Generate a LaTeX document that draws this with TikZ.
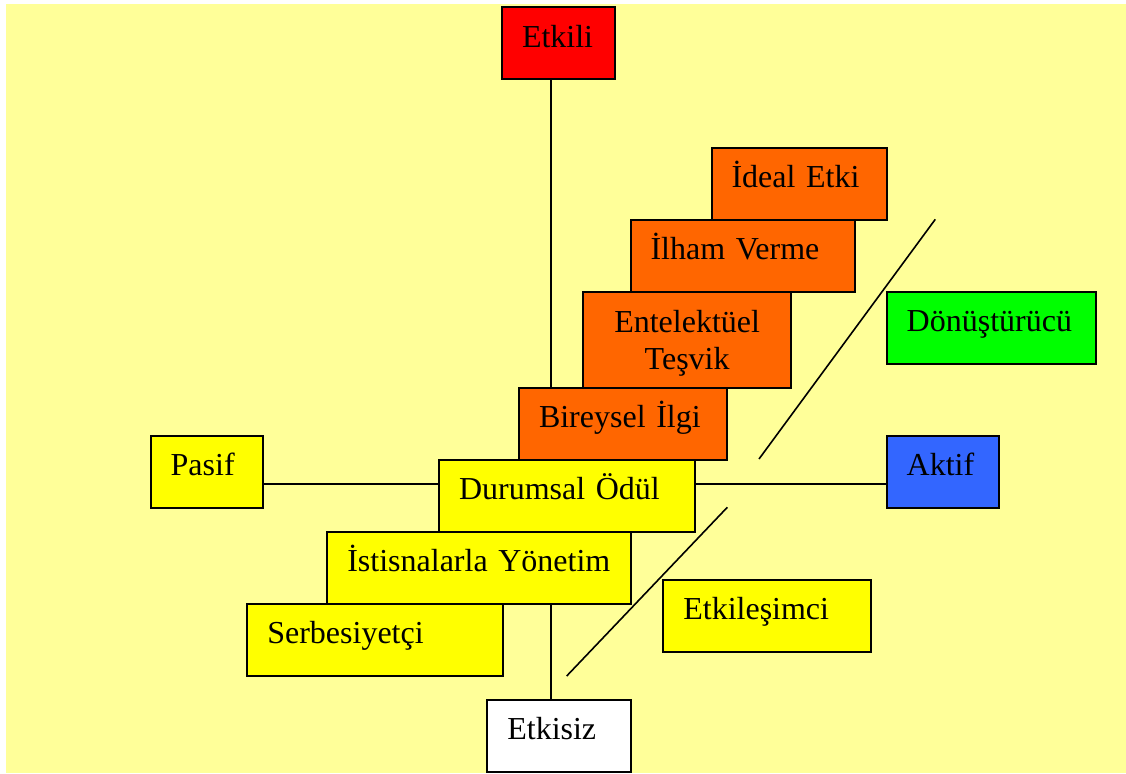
\documentclass[tikz,border=0pt]{standalone}
\usepackage{fontspec}
\setmainfont{Liberation Serif}
\definecolor{paper}{HTML}{FFFF99}
\definecolor{boxred}{HTML}{FF0000}
\definecolor{boxorange}{HTML}{FF6600}
\definecolor{boxyellow}{HTML}{FFFF00}
\definecolor{boxgreen}{HTML}{00FF00}
\definecolor{boxblue}{HTML}{3366FF}
\begin{document}
\begin{tikzpicture}[x=1pt,y=-1pt,
  box/.style={draw, line width=2pt, anchor=north west, outer sep=0pt,
    inner xsep=20pt, inner ysep=0pt,
    minimum height=71.5pt, text height=22pt, text depth=14.5pt, align=left,
    font=\fontsize{32pt}{37pt}\selectfont},
  link/.style={line width=2pt},
  slash/.style={line width=1.6pt}]
\useasboundingbox (0,0) rectangle (1126,773);
\fill[white] (0,0) rectangle (1126,773);
\fill[paper] (6,4) rectangle (1126,773);

% reference point where the two axes cross
\coordinate (axis) at (551,484);

% top pole and the stair of transformational factors
\node[box, fill=boxred, minimum height=72pt, text width=73pt] (etkili) at (502,7.5) {Etkili};
\node[box, fill=boxorange, text width=135.5pt] (ideal) at (711.5,148) {İdeal Etki};
\node[box, fill=boxorange, text width=184.5pt] (ilham) at (630.5,220) {İlham Verme};
\node[box, fill=boxorange, align=center, minimum height=95.2pt, text depth=37.8pt,
  text width=167.7pt] (entel) at (583.3,292.3) {Entelektüel\\Teşvik};
\node[box, fill=boxorange, text width=167.5pt] (birey) at (519,388.3) {Bireysel İlgi};
\node[box, fill=boxyellow, text width=216pt] (durum) at (439,460.3) {Durumsal Ödül};
\node[box, fill=boxyellow, text width=263.4pt] (istis) at (327.3,532.3) {İstisnalarla Yönetim};
\node[box, fill=boxyellow, text width=215.4pt] (serb) at (247.3,604.3) {Serbesiyetçi};

% poles of the horizontal axis and the bottom pole
\node[box, fill=boxyellow, text width=72pt] (pasif) at (150.7,436) {Pasif};
\node[box, fill=boxblue, text width=72.3pt] (aktif) at (886.7,436) {Aktif};
\node[box, fill=white, minimum height=72pt, text width=103.7pt] (etkisiz) at (487.3,700) {Etkisiz};

% style groups
\node[box, fill=boxgreen, text width=169pt] (donus) at (886.7,292.3) {Dönüştürücü};
\node[box, fill=boxyellow, text width=167.7pt] (etkilesim) at (663.3,580) {Etkileşimci};

% axes
\draw[link] (etkili.south -| axis) -- (birey.north -| axis);
\draw[link] (istis.south -| axis) -- (etkisiz.north -| axis);
\draw[link] (pasif.east |- axis) -- (durum.west |- axis);
\draw[link] (durum.east |- axis) -- (aktif.west |- axis);

% separators between the style groups
\coordinate (s1a) at (759,459);
\coordinate (s1b) at (935.3,219.3);
\coordinate (s2a) at (566.7,676);
\coordinate (s2b) at (727.3,507.3);
\draw[slash] (s1a) -- (s1b);
\draw[slash] (s2a) -- (s2b);
\end{tikzpicture}
\end{document}
